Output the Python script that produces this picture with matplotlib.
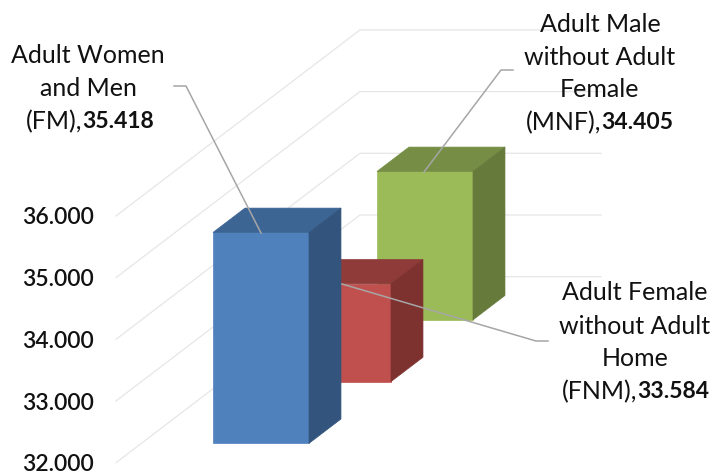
import matplotlib
matplotlib.use('Agg')
import matplotlib.pyplot as plt

plt.rcParams['font.family'] = ['Lato', 'DejaVu Sans']

names = ['Adult Women and Men (FM)', 'Adult Female without Adult Home (FNM)', 'Adult Male without Adult Female (MNF)']
values = [35.418, 33.584, 34.405]
yticks = [32, 33, 34, 35, 36]
yticklabels = ['32.000', '33.000', '34.000', '35.000', '36.000']

front_colors = ['#4f81bd', '#c0504d', '#9bbb59']
top_colors = ['#3d6594', '#8f3b39', '#758d44']
side_colors = ['#33547c', '#7e3230', '#667a3b']

# oblique projection: x is in pixels, y in value units, depth shifts both
px_per_unit = 61.7
depth_dx = 244
depth_dy = 186 / px_per_unit
bar_w = 96
bar_depth = 0.131
bar_x = [213, 295, 377]
bar_pos = [0.104, 0.436, 0.768]

fig = plt.figure(figsize=(7.13, 4.76), dpi=100)
ax = fig.add_axes([0, 0, 1, 1])
ax.set_xlim(0, 713)
ax.set_ylim(32 - 13.3 / px_per_unit, 32 + 462.7 / px_per_unit)
for s in ax.spines.values():
    s.set_visible(False)
ax.set_xticks([])
ax.set_yticks(yticks)
ax.set_yticklabels(yticklabels, fontsize=16.5, fontweight='semibold', color='#111111')
ax.tick_params(axis='y', length=0, pad=-67.5)
for t in ax.get_yticklabels():
    t.set_ha('right')

grid_c = '#e6e6e6'
for v in yticks:
    ax.plot([116, 116 + depth_dx, 601], [v, v + depth_dy, v + depth_dy], color=grid_c, lw=0.9, zorder=1)


def face(xs, ys, color, z):
    ax.fill(xs, ys, color=color, lw=0.5, zorder=z)


# draw back to front
for i in [2, 1, 0]:
    d = bar_pos[i]
    x0 = bar_x[i]
    base = 32 + d * depth_dy
    top = base + values[i] - 32
    dx = bar_depth * depth_dx
    dy = bar_depth * depth_dy
    z = 5 - i
    face([x0, x0 + bar_w, x0 + bar_w, x0], [base, base, top, top], front_colors[i], z)
    face([x0, x0 + bar_w, x0 + bar_w + dx, x0 + dx], [top, top, top + dy, top + dy], top_colors[i], z)
    face([x0 + bar_w, x0 + bar_w + dx, x0 + bar_w + dx, x0 + bar_w],
         [base, base + dy, top + dy, top], side_colors[i], z)

# overlay in pixels for labels and leader lines
ov = fig.add_axes([0, 0, 1, 1])
ov.set_xlim(0, 713)
ov.set_ylim(476, 0)
ov.axis('off')
ov.patch.set_alpha(0)

leader_c = '#a6a6a6'
ov.plot([174, 186, 261], [86, 86, 233], color=leader_c, lw=1.1)
ov.plot([513, 501, 424], [70, 70, 172], color=leader_c, lw=1.1)
ov.plot([342, 536, 548], [284, 341, 341], color=leader_c, lw=1.1)

fs = 18
fs_val = 16.5


def label(lines, xc, y0, pitch, head, val, split):
    for n, line in enumerate(lines):
        ov.text(xc, y0 + n * pitch, line, ha='center', va='center', fontsize=fs, color='#111111')
    yl = y0 + len(lines) * pitch
    ov.text(split, yl, head, ha='right', va='center', fontsize=fs, color='#111111')
    ov.text(split, yl, val, ha='left', va='center', fontsize=fs_val, fontweight='bold', color='#111111')


label(['Adult Women', 'and Men'], 88, 55.5, 33, '(FM),', '35.418', 82)
label(['Adult Male', 'without Adult', 'Female'], 600, 24.5, 32.7, '(MNF),', '34.405', 601)
label(['Adult Female', 'without Adult', 'Home'], 635, 293, 33, '(FNM),', '33.584', 637)

fig.savefig('out.png', dpi=100)
